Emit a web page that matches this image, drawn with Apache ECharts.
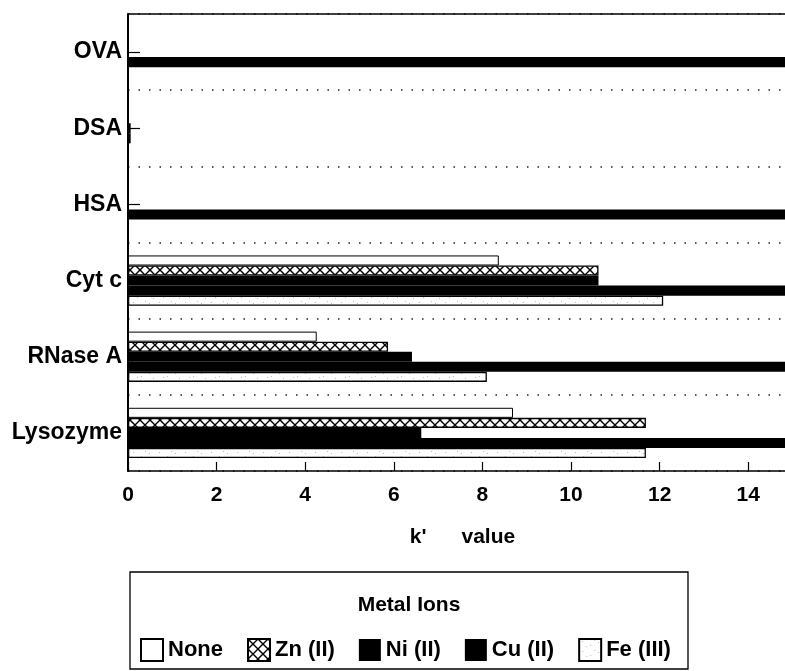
<!DOCTYPE html>
<html><head><meta charset="utf-8">
<script src="https://cdn.jsdelivr.net/npm/echarts@6/dist/echarts.min.js"></script>
<style>html,body{margin:0;padding:0;background:#fff}#c{width:785px;height:671px}</style>
</head><body><div id="c"></div>
<script>
// ---- data ----
const categories = ['Lysozyme', 'RNase A', 'Cyt c', 'HSA', 'DSA', 'OVA'];
const seriesNames = ['None', 'Zn (II)', 'Ni (II)', 'Cu (II)', 'Fe (III)'];
const noneValues = [8.69, 4.26, 8.37, 0, 0, 0];
const znValues   = [11.69, 5.87, 10.62, 0, 0, 0];
const niValues   = [6.62, 6.41, 10.62, 0, 0.06, 0];
const cuValues   = [16, 16, 16, 16, 0.06, 16];   // Cu bars run past the visible axis end
const feValues   = [11.69, 8.10, 12.08, 0, 0, 0];
const xTickValues = [0, 2, 4, 6, 8, 10, 12, 14];
const xMin = 0, xMax = 14.83;   // the axis is cut off at the right edge of the picture
const axisTitle = "k'      value";
const legendTitle = 'Metal Ions';

// ---- fill patterns ----
function hatchPattern() {
  const c = document.createElement('canvas'); c.width = 10; c.height = 10;
  const g = c.getContext('2d');
  g.fillStyle = '#fff'; g.fillRect(0, 0, 10, 10);
  g.strokeStyle = '#000'; g.lineWidth = 1.4;
  g.beginPath(); g.moveTo(0, 0); g.lineTo(10, 10); g.moveTo(10, 0); g.lineTo(0, 10); g.stroke();
  return c;
}
function speckPattern() {
  const c = document.createElement('canvas'); c.width = 26; c.height = 10;
  const g = c.getContext('2d');
  g.fillStyle = '#fff'; g.fillRect(0, 0, 26, 10);
  g.fillStyle = '#bbb';
  [[3,2],[11,6],[19,3],[23,8],[7,7],[15,1]].forEach(p => g.fillRect(p[0], p[1], 1, 1));
  return c;
}

const FONT = "'Liberation Sans', Arial, Helvetica, sans-serif";
const chart = echarts.init(document.getElementById('c'), null, {renderer: 'canvas'});

const styles = [
  {color: '#fff', borderColor: '#000', borderWidth: 1},
  {color: {image: hatchPattern(), repeat: 'repeat'}, borderColor: '#000', borderWidth: 1.3},
  {color: '#000'},
  {color: '#000'},
  {color: {image: speckPattern(), repeat: 'repeat'}, borderColor: '#000', borderWidth: 1.3}
];
const values = [noneValues, znValues, niValues, cuValues, feValues];

chart.setOption({
  animation: false,
  backgroundColor: '#fff',
  textStyle: {fontFamily: FONT, color: '#000', fontWeight: 'bold'},
  grid: {left: 128, top: 14, right: 0, height: 457, show: false},
  xAxis: [{
    type: 'value', min: xMin, max: xMax,
    axisLine: {show: true, lineStyle: {color: '#000', width: 1.5}},
    axisTick: {show: true, inside: true, length: 9, customValues: xTickValues, lineStyle: {color: '#000', width: 1.2}},
    axisLabel: {color: '#000', fontSize: 21, fontWeight: 'bold', fontFamily: FONT, margin: 14, customValues: xTickValues},
    splitLine: {show: false},
    name: axisTitle, nameLocation: 'middle', nameGap: 56,
    nameTextStyle: {color: '#000', fontSize: 21, fontWeight: 'bold', fontFamily: FONT, padding: [0, 0, 0, 12]}
  }, {
    type: 'value', position: 'top', min: xMin, max: xMax,
    axisLine: {show: true, lineStyle: {color: '#000', width: 1.5}},
    axisTick: {show: false}, axisLabel: {show: false}, splitLine: {show: false}
  }],
  yAxis: {
    type: 'category', data: categories,
    axisLine: {show: true, lineStyle: {color: '#000', width: 2}},
    axisTick: {show: true, inside: true, alignWithLabel: true, length: 12, lineStyle: {color: '#000', width: 1.2}},
    axisLabel: {color: '#000', fontSize: 23, fontWeight: 'bold', fontFamily: FONT, margin: 6},
    splitLine: {show: true, lineStyle: {color: '#222', width: 1.5, type: [1.5, 9]}}
  },
  legend: {
    data: seriesNames, left: 135, top: 633, itemWidth: 22, itemHeight: 22, itemGap: 24,
    icon: 'rect',
    textStyle: {color: '#000', fontSize: 22, fontWeight: 'bold', fontFamily: FONT}
  },
  graphic: [
    {type: 'rect', shape: {x: 130, y: 572, width: 558, height: 97},
     style: {fill: 'transparent', stroke: '#000', lineWidth: 1.3}, z: 0},
    {type: 'text', x: 409, y: 605,
     style: {text: legendTitle, fill: '#000', font: 'bold 21px ' + FONT, align: 'center', verticalAlign: 'middle'}}
  ],
  series: seriesNames.map((n, i) => ({
    name: n, type: 'bar', data: values[i],
    barGap: '0%', barCategoryGap: '34%',
    itemStyle: styles[i]
  }))
});
</script></body></html>
